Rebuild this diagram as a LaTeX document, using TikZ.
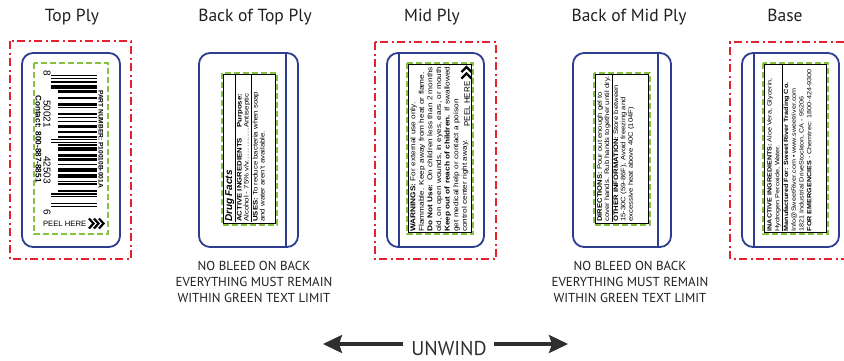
\documentclass[tikz,border=0pt]{standalone}
\usepackage{fontspec}
\setmainfont{Liberation Sans}
\newfontfamily\ttlfont{PT Sans}
\newfontfamily\lblfont[FakeStretch=1.18]{Liberation Sans}
\usetikzlibrary{arrows.meta}
\definecolor{bleedred}{HTML}{E3222D}
\definecolor{dieblue}{HTML}{2D3E91}
\definecolor{safegreen}{HTML}{86C240}
\definecolor{arrowgray}{HTML}{2F2F2F}
\definecolor{inkblack}{HTML}{231F20}
\tikzset{
  bleed/.style={draw=bleedred, line width=1.6pt, dash pattern=on 8pt off 3.5pt on 2pt off 3.5pt},
  die/.style={draw=dieblue, line width=1.8pt, rounded corners=11pt},
  dieline/.style={draw=dieblue, line width=1.3pt},
  safe/.style={draw=safegreen, line width=1.5pt, dash pattern=on 6pt off 3pt},
  frame/.style={draw=black, line width=0.4pt},
  title/.style={font=\ttlfont\fontsize{17.5}{19}\selectfont, text=inkblack, inner sep=0, anchor=base},
  note/.style={font=\ttlfont\fontsize{13}{16}\selectfont, align=center, inner sep=0, text=inkblack, anchor=north},
  lbl/.style={inner sep=0, align=left, rotate=90, anchor=north west},
  digit/.style={font=\fontsize{10}{10}\selectfont, inner sep=0, rotate=-90},
  chev/.style={draw=black, line width=2.2pt, miter limit=4},
  unwindarrow/.style={draw=arrowgray, line width=3.2pt, -{Stealth[length=19pt,width=18pt,inset=3pt]}}
}
\begin{document}
\begin{tikzpicture}[x=1pt,y=-1pt]
\useasboundingbox (0,0) rectangle (844,360);
\fill[white] (0,0) rectangle (844,360);

% titles
\node[title] (tTop) at (72,21) {Top Ply};
\node[title] (tBackTop) at (255,21) {Back of Top Ply};
\node[title] (tMid) at (432,21) {Mid Ply};
\node[title] (tBackMid) at (629,21) {Back of Mid Ply};
\node[title] (tBase) at (785,21) {Base};

% ---------- Top Ply ----------
\draw[bleed] (10,41) rectangle (131,259);
\draw[die] (22,53) rectangle (120,247);
\draw[safe] (34,63) rectangle (108,234);
\foreach \b [count=\i] in {1,0,1, 0,1,1,0,1,1,1, 0,1,1,0,0,0,1, 0,0,0,1,1,0,1, 0,0,0,1,1,0,1, 0,0,1,0,0,1,1, 0,0,1,1,0,0,1, 0,1,0,1,0, 1,0,1,1,1,0,0, 1,1,0,1,1,0,0, 1,0,0,1,1,1,0, 1,1,1,0,0,1,0, 1,0,0,0,0,1,0, 1,0,1,0,0,0,0, 1,0,1}{
  \ifnum\b=1
    \pgfmathsetmacro\yy{75+(\i-1)*1.3895}
    \pgfmathsetmacro\xs{(\i<11 || \i>85 || (\i>45 && \i<51)) ? 51 : 58}
    \fill[black] (\xs,\yy) rectangle (97,\yy+1.3895);
  \fi
}
\node[digit] (dA) at (47,73) {8};
\node[digit] (dB) at (47,114) {50021};
\node[digit] (dC) at (47,170) {42503};
\node[digit] (dD) at (47,212) {6};
\node[rotate=-90, font=\bfseries\fontsize{6.6}{7}\selectfont, inner sep=0] (partno) at (101,139) {PART NUMBER: P10010B-001A};
\node[rotate=-90, font=\bfseries\fontsize{8.2}{9}\selectfont, inner sep=0] (contact) at (38.5,139) {Contact: 800-887-8851};
\node[font=\fontsize{7.7}{8}\selectfont, inner sep=0, anchor=east] (peelA) at (86.5,223.5) {PEEL HERE};
\foreach \cx in {89,94,99}{
  \draw[chev] (\cx,218.5) -- (\cx+4.5,223.5) -- (\cx,228.5);
}

% ---------- Back of Top Ply ----------
\draw[die] (199,53) rectangle (298,247);
\draw[dieline] (286,53) -- (286,247);
\draw[safe] (222,73) rectangle (277,225);
\draw[frame] (223.5,74.5) rectangle (275.5,223.5);
\node[lbl, text width=147pt, font=\lblfont\fontsize{6.6}{7}\selectfont] (drugfacts) at (225,222) {%
{\rmfamily\bfseries\itshape\fontsize{10}{11}\selectfont Drug Facts}\par
\vspace{1pt}\hrule\vspace{1.5pt}
\hbox to 128pt{\bfseries ACTIVE INGREDIENTS\hfill Purpose:}
\hbox to 128pt{Alcohol - 75\% v/v.\dotfill Antiseptic}
\vspace{1pt}\hrule\vspace{1.5pt}
\textbf{USES:} To reduce bacteria when soap\\
and water aren't available.};

% ---------- Mid Ply ----------
\draw[bleed] (375,42) rectangle (496,259);
\draw[die] (387,53) rectangle (484,247);
\draw[dieline] (399,53) -- (399,247);
\draw[safe] (407,63) rectangle (473,234);
\draw[frame] (408.5,64.5) rectangle (471.5,232.5);
\node[lbl, text width=169pt, font=\lblfont\fontsize{7}{8.6}\selectfont] (warnings) at (410,232) {%
\textbf{WARNINGS:} For external use only.\\
Flammable. Keep away from heat or flame.\\
\textbf{Do Not Use:} On children less than 2 months\\
old, on open wounds, in eyes, ears, or mouth.\\
\textbf{Keep out of reach of children.} If swallowed,\\
get medical help or contact a poison\\
control center right away.};
\node[rotate=90, font=\fontsize{8}{8}\selectfont, inner sep=0] (peelB) at (467,104) {PEEL HERE};
\foreach \cy in {67,73.5}{
  \draw[chev] (461.5,\cy+5) -- (466.5,\cy) -- (471.5,\cy+5);
}

% ---------- Back of Mid Ply ----------
\draw[die] (573,53) rectangle (671,247);
\draw[dieline] (658,53) -- (658,247);
\draw[safe] (594,73) rectangle (650,225);
\draw[frame] (595.5,74.5) rectangle (648.5,223.5);
\node[lbl, text width=148pt, font=\lblfont\fontsize{6.5}{7.3}\selectfont] (directions) at (597,222) {%
\textbf{DIRECTIONS:} Pour out enough gel to\\
cover hands. Rub hands together until dry.\par
\vspace{1pt}\hrule\vspace{1.5pt}
\textbf{OTHER INFORMATION:} Store between\\
15-30C (59-86F), Avoid freezing and\\
excessive heat above 40C (104F)};

% ---------- Base ----------
\draw[bleed] (844,42) -- (730,42) -- (730,259) -- (844,259);
\draw[die] (742,53) rectangle (839,247);
\draw[dieline] (754,53) -- (754,247);
\draw[safe] (763,63) rectangle (828,234);
\draw[frame] (764.5,64.5) rectangle (826.5,232.5);
\node[lbl, text width=166pt, font=\lblfont\fontsize{6.1}{7.8}\selectfont] (inactive) at (767,231.5) {%
\textbf{INACTIVE INGREDIENTS:} Aloe Vera, Glycerin,\\
Hydrogen Peroxide, Water.\par
\vspace{1pt}\hrule\vspace{1.5pt}
\textbf{Manufactured For: Sweet River Trading Co.}\\
Info@SweetRiver.com • www.sweetriver.com\\
1821 Industrial DriveStockton, CA - 95206\\
\textbf{FOR EMERGENCIES} - Chemtrec: 1800-424-9300};

% ---------- notes ----------
\node[note] (noteA) at (254,261.5) {NO BLEED ON BACK\\EVERYTHING MUST REMAIN\\WITHIN GREEN TEXT LIMIT};
\node[note] (noteB) at (630,261.5) {NO BLEED ON BACK\\EVERYTHING MUST REMAIN\\WITHIN GREEN TEXT LIMIT};

% ---------- unwind ----------
\node[font=\ttlfont\fontsize{20}{22}\selectfont, inner sep=0, anchor=base, text=arrowgray] (unwind) at (449,355) {UNWIND};
\coordinate (lstart) at (403,344);
\coordinate (ltip) at (323,344);
\coordinate (rstart) at (494,344);
\coordinate (rtip) at (568,344);
\draw[unwindarrow] (lstart) -- (ltip);
\draw[unwindarrow] (rstart) -- (rtip);
\end{tikzpicture}
\end{document}
